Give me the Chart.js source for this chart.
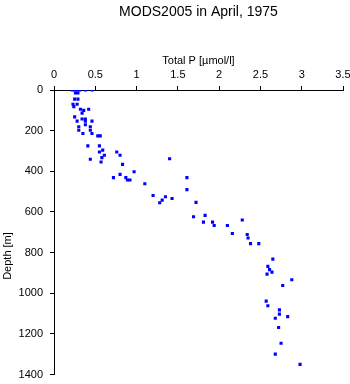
<!DOCTYPE html>
<html>
<head>
<meta charset="utf-8">
<script src="https://cdn.jsdelivr.net/npm/chart.js@4/dist/chart.umd.min.js"></script>
<style>
  html, body { margin: 0; padding: 0; background: #fff; }
  canvas { display: block; }
</style>
</head>
<body>
<canvas id="c" width="350" height="384"></canvas>
<script>
// Total phosphorus profile, station MODS2005, April 1975
const chartTitle = 'MODS2005 in April, 1975';
const xTitle = 'Total P [\u00b5mol/l]';
const yTitle = 'Depth [m]';

// Tick positions for each axis
const pTicks = [0, 0.5, 1, 1.5, 2, 2.5, 3, 3.5];
const depthTicks = [0, 200, 400, 600, 800, 1000, 1200, 1400];

// Samples: total P [µmol/l] and depth [m]
const totalP = [
  0.22, 0.25, 0.28, 0.31, 0.38, 0.46,
  0.26, 0.29, 0.25, 0.29, 0.23, 0.28, 0.24,
  0.32, 0.36, 0.42, 0.34, 0.25, 0.34, 0.38,
  0.28, 0.38, 0.46, 0.38, 0.30, 0.44, 0.30, 0.44,
  0.35, 0.46, 0.53, 0.56, 0.41, 0.55, 0.59, 0.55, 0.76,
  0.61, 0.80, 0.58, 1.40, 0.44, 0.57, 0.83, 0.97, 0.80,
  0.72, 0.87, 1.61, 0.89, 0.92, 1.10, 1.61, 1.20, 1.35,
  1.43, 1.31, 1.28, 1.72, 1.83, 1.69, 2.28, 1.81, 1.92,
  1.94, 2.10, 2.16, 2.34, 2.35, 2.38, 2.48, 2.65, 2.59,
  2.61, 2.64, 2.58, 2.88, 2.77, 2.57, 2.59, 2.73, 2.73,
  2.83, 2.68, 2.72, 2.75, 2.68, 2.98
];
const depth = [
  0, 0, 0, 0, 0, 0,
  15, 15, 45, 45, 70, 70, 82,
  95, 100, 95, 114, 132, 143, 143,
  153, 153, 153, 171, 181, 181, 198, 198,
  214, 214, 226, 226, 275, 275, 296, 305, 305,
  321, 321, 333, 338, 341, 354, 366, 402, 415,
  431, 431, 431, 443, 443, 461, 490, 519, 525,
  534, 542, 555, 553, 617, 624, 640, 650, 650,
  667, 667, 706, 711, 728, 756, 756, 832, 868,
  884, 896, 906, 934, 962, 1039, 1062, 1082, 1103,
  1115, 1123, 1169, 1246, 1300, 1350
];

const FONT = '"Liberation Sans", Arial, Helvetica, sans-serif';

const points = totalP.map((p, i) => ({ x: p, y: depth[i] }));

// Draws the chart title and both axis titles
const titlesPlugin = {
  id: 'titles',
  afterDraw(chart) {
    const { ctx, chartArea } = chart;
    const cx = (chartArea.left + chartArea.right) / 2;
    ctx.save();
    ctx.fillStyle = '#000';
    ctx.textAlign = 'center';
    ctx.textBaseline = 'middle';
    ctx.font = '14px ' + FONT;
    ctx.fillText(chartTitle, cx, 12);
    ctx.font = '11px ' + FONT;
    ctx.fillText(xTitle, cx, 61);
    ctx.translate(8, 256);
    ctx.rotate(-Math.PI / 2);
    ctx.fillText(yTitle, 0, 0);
    ctx.restore();
  }
};

new Chart(document.getElementById('c'), {
  type: 'scatter',
  data: {
    datasets: [{
      data: points,
      pointStyle: 'rect',
      pointRadius: 2.2,
      pointBackgroundColor: '#0000ff',
      pointBorderWidth: 0,
      showLine: false
    }]
  },
  options: {
    responsive: false,
    animation: false,
    events: [],
    layout: { padding: { left: 0, right: 7, top: 0, bottom: 9.5 } },
    plugins: { legend: { display: false }, tooltip: { enabled: false }, title: { display: false } },
    scales: {
      x: {
        type: 'linear',
        position: 'top',
        min: 0,
        max: 3.5,
        afterBuildTicks(scale) { scale.ticks = pTicks.map(v => ({ value: v })); },
        afterFit(scale) {
          scale.height = 90;
          scale.paddingLeft = 0;
          scale.paddingRight = 0;
        },
        ticks: {
          color: '#000',
          font: { size: 11, family: FONT },
          padding: 4,
          maxRotation: 0,
          callback: v => String(v)
        },
        grid: { display: true, drawOnChartArea: false, drawTicks: true, tickLength: 4, color: '#000', lineWidth: 1 },
        border: { display: true, color: '#000', width: 1 }
      },
      y: {
        type: 'linear',
        position: 'left',
        reverse: true,
        min: 0,
        max: 1400,
        afterBuildTicks(scale) { scale.ticks = depthTicks.map(v => ({ value: v })); },
        afterFit(scale) {
          scale.width = 54;
          scale.paddingTop = 0;
          scale.paddingBottom = 0;
        },
        ticks: {
          color: '#000',
          font: { size: 11, family: FONT },
          padding: 7,
          callback: v => String(v)
        },
        grid: { display: true, drawOnChartArea: false, drawTicks: true, tickLength: 4, color: '#000', lineWidth: 1 },
        border: { display: true, color: '#000', width: 1 }
      }
    }
  },
  plugins: [titlesPlugin]
});
</script>
</body>
</html>
